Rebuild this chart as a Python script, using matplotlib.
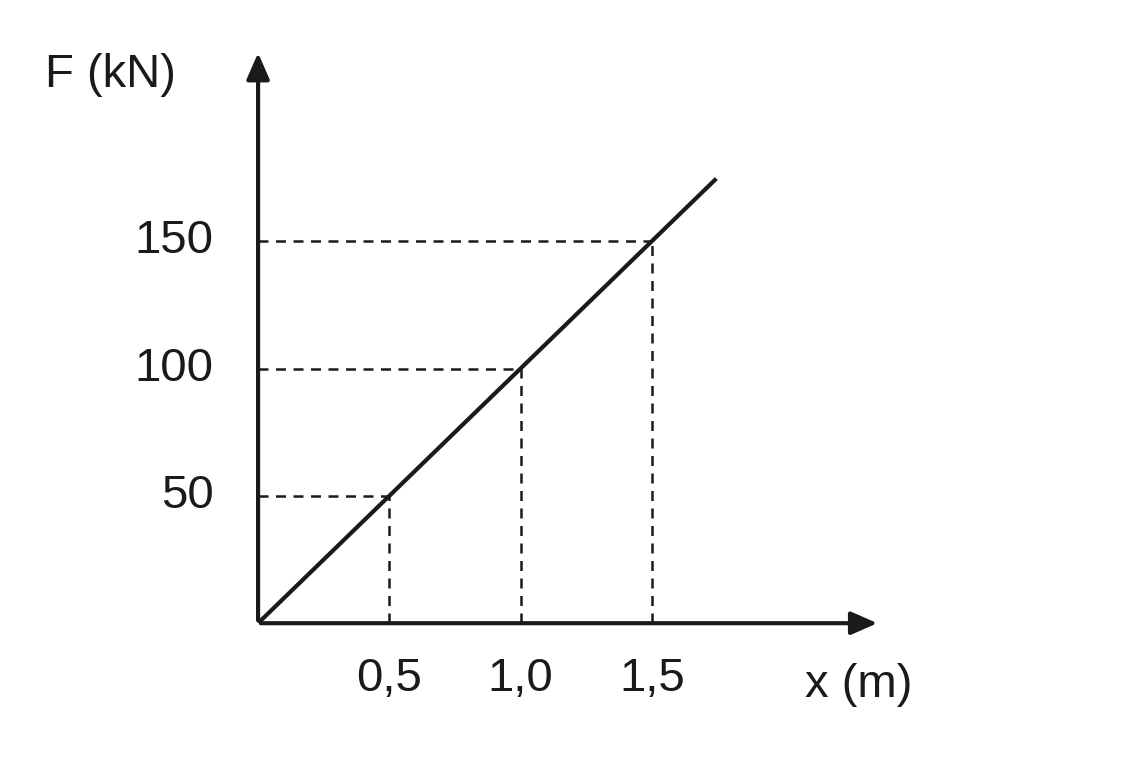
import matplotlib
matplotlib.use("Agg")
import matplotlib.pyplot as plt

x_line = [0.0, 1.74]
F_line = [0.0, 174.0]
x_marks = [0.5, 1.0, 1.5]
F_marks = [50, 100, 150]
x_labels = ["0,5", "1,0", "1,5"]
F_labels = ["50", "100", "150"]

plt.rcParams['font.family'] = ['Liberation Sans', 'DejaVu Sans']
fig = plt.figure(figsize=(11.27, 7.6), dpi=100)
ax = fig.add_axes([0.229, 0.180, 0.552, 0.754])
xmax, ymax = 2.37, 225
ax.set_xlim(0, xmax); ax.set_ylim(0, ymax)
for s in ax.spines.values():
    s.set_visible(False)
ax.set_xticks([]); ax.set_yticks([])

ax.plot(x_line, F_line, color='#1a1a1a', lw=3)
for xv, fv in zip(x_marks, F_marks):
    ax.plot([xv, xv], [0, fv], ls=(0, (4, 3)), color='#1a1a1a', lw=1.8)
    ax.plot([0, xv], [fv, fv], ls=(0, (4, 3)), color='#1a1a1a', lw=1.8)
for xv, lab in zip(x_marks, x_labels):
    ax.text(xv, -22, lab, ha='center', va='center', fontsize=34, color='#1a1a1a')
for fv, lab in zip(F_marks, F_labels):
    ax.text(-0.17, fv, lab, ha='right', va='center', fontsize=34, color='#1a1a1a')

ax.annotate('', xy=(xmax, 0), xytext=(0, 0),
            arrowprops=dict(arrowstyle='-|>,head_length=1.6,head_width=0.7', lw=3, color='#1a1a1a'),
            annotation_clip=False)
ax.annotate('', xy=(0, ymax), xytext=(0, 0),
            arrowprops=dict(arrowstyle='-|>,head_length=1.6,head_width=0.7', lw=3, color='#1a1a1a'),
            annotation_clip=False)
fig.text(805/1127, 1 - 685/760, 'x (m)', ha='left', va='center', fontsize=34, color='#1a1a1a')
fig.text(45/1127, 1 - 75/760, 'F (kN)', ha='left', va='center', fontsize=34, color='#1a1a1a')
fig.savefig('out.png', dpi=100, facecolor='white')
